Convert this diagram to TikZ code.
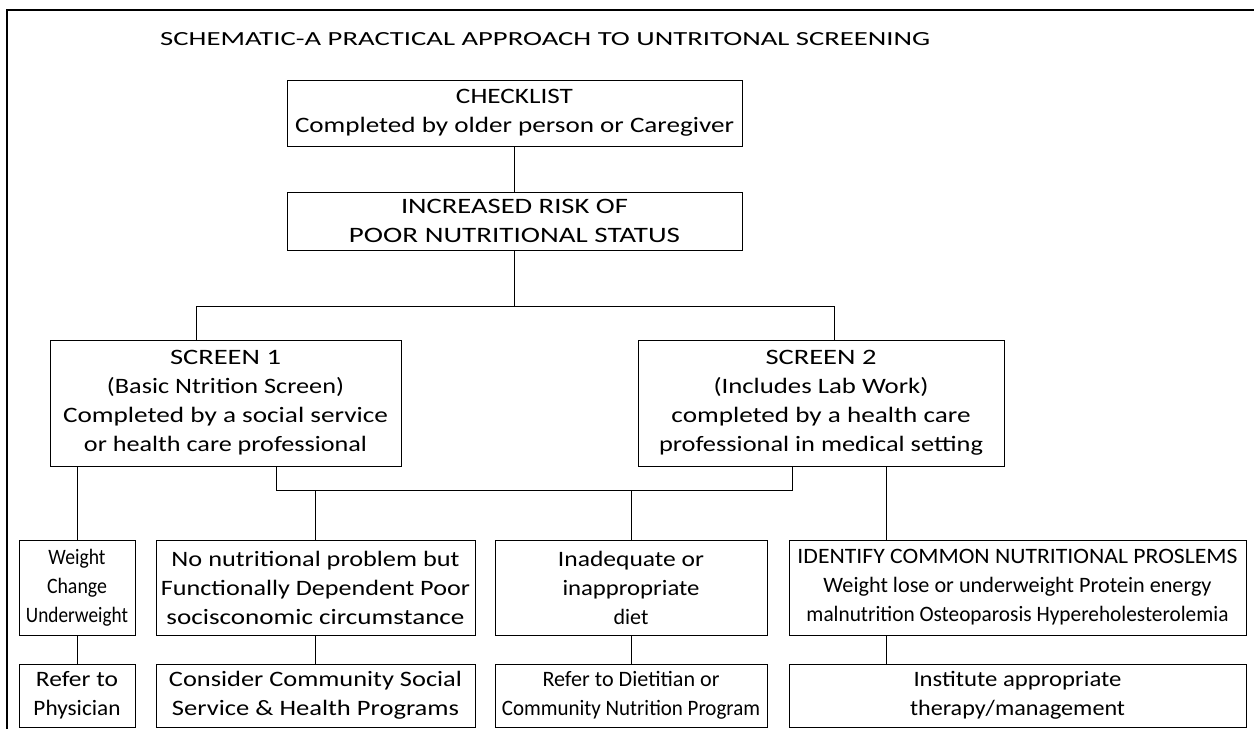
\documentclass[tikz,border=0pt]{standalone}
\usepackage{fontspec}
\setmainfont{Carlito}
\usepackage{graphicx}
\newcommand{\fl}[2]{\resizebox{#1pt}{\height}{#2}}
\begin{document}
\begin{tikzpicture}[x=1pt,y=-1pt,
  bx/.style={draw, line width=0.9pt, align=center, inner sep=0pt,
    font=\fontsize{22}{29}\selectfont},
  ln/.style={line width=0.6pt}]
\useasboundingbox (0,0) rectangle (1254,729);
\fill[white] (0,0) rectangle (1254,729);
\draw[line width=1.1pt] (7,729) -- (7,10) -- (1254,10);
\node[anchor=base west, inner sep=0pt, font=\fontsize{20}{24}\selectfont] (title) at (160,45)
  {\fl{770}{SCHEMATIC-A PRACTICAL APPROACH TO UNTRITONAL SCREENING}};
% boxes
\node[bx, minimum width=455pt, minimum height=66pt] (chk) at (514.5,113)
  {\fl{117}{CHECKLIST}\\\fl{439}{Completed by older person or Caregiver}};
\node[bx, minimum width=455pt, minimum height=58pt] (risk) at (514.5,221)
  {\fl{227}{INCREASED RISK OF}\\\fl{331}{POOR NUTRITIONAL STATUS}};
\node[bx, minimum width=351pt, minimum height=126pt] (s1) at (225.5,403)
  {\fl{111}{SCREEN 1}\\\fl{237}{(Basic Ntrition Screen)}\\\fl{325}{Completed by a social service}\\\fl{283}{or health care professional}};
\node[bx, minimum width=366pt, minimum height=126pt] (s2) at (821,403)
  {\fl{111}{SCREEN 2}\\\fl{215}{(Includes Lab Work)}\\\fl{299}{completed by a health care}\\\fl{324}{professional in medical setting}};
\node[bx, minimum width=116pt, minimum height=95pt] (wc) at (77,587.5)
  {\fl{57}{Weight}\\\fl{60}{Change}\\\fl{102}{Underweight}};
\node[bx, minimum width=319pt, minimum height=95pt] (nn) at (315.5,587.5)
  {\fl{288}{No nutritional problem but}\\\fl{309}{Functionally Dependent Poor}\\\fl{298}{socisconomic circumstance}};
\node[bx, minimum width=272pt, minimum height=95pt] (ia) at (631,587.5)
  {\fl{146}{Inadequate or}\\\fl{137}{inappropriate}\\diet};
\node[bx, minimum width=457pt, minimum height=95pt] (id) at (1017.5,587.5)
  {\fl{440}{IDENTIFY COMMON NUTRITIONAL PROSLEMS}\\\fl{388}{Weight lose or underweight Protein energy}\\\fl{422}{malnutrition Osteoparosis Hypereholesterolemia}};
\node[bx, minimum width=116pt, minimum height=63pt] (rp) at (77,695.5)
  {\fl{82}{Refer to}\\\fl{87}{Physician}};
\node[bx, minimum width=319pt, minimum height=63pt] (cc) at (315.5,695.5)
  {\fl{293}{Consider Community Social}\\\fl{287}{Service \& Health Programs}};
\node[bx, minimum width=272pt, minimum height=63pt] (rd) at (631,695.5)
  {\fl{177}{Refer to Dietitian or}\\\fl{258}{Community Nutrition Program}};
\node[bx, minimum width=457pt, minimum height=63pt] (it) at (1017.5,695.5)
  {\fl{208}{Institute appropriate}\\\fl{215}{therapy/management}};
% connectors
\coordinate (j1) at (196,306);
\coordinate (j2) at (834,306);
\coordinate (k1) at (276,490);
\coordinate (k2) at (792,490);
\coordinate (v2) at (886,490);
\draw[ln] (chk.south) -- (risk.north);
\draw[ln] (risk.south) -- (risk.south |- j1);
\draw[ln] (s1.north -| j1) -- (j1) -- (j2) -- (s2.north -| j2);
\draw[ln] (s1.south -| k1) -- (k1) -- (k2) -- (s2.south -| k2);
\draw[ln] (nn.north) -- (nn.north |- k1);
\draw[ln] (ia.north) -- (ia.north |- k1);
\draw[ln] (s1.south -| wc.north) -- (wc.north);
\draw[ln] (s2.south -| v2) -- (id.north -| v2);
\draw[ln] (wc.south) -- (rp.north);
\draw[ln] (nn.south) -- (cc.north);
\draw[ln] (ia.south) -- (rd.north);
\draw[ln] (id.south -| v2) -- (it.north -| v2);
\end{tikzpicture}
\end{document}
